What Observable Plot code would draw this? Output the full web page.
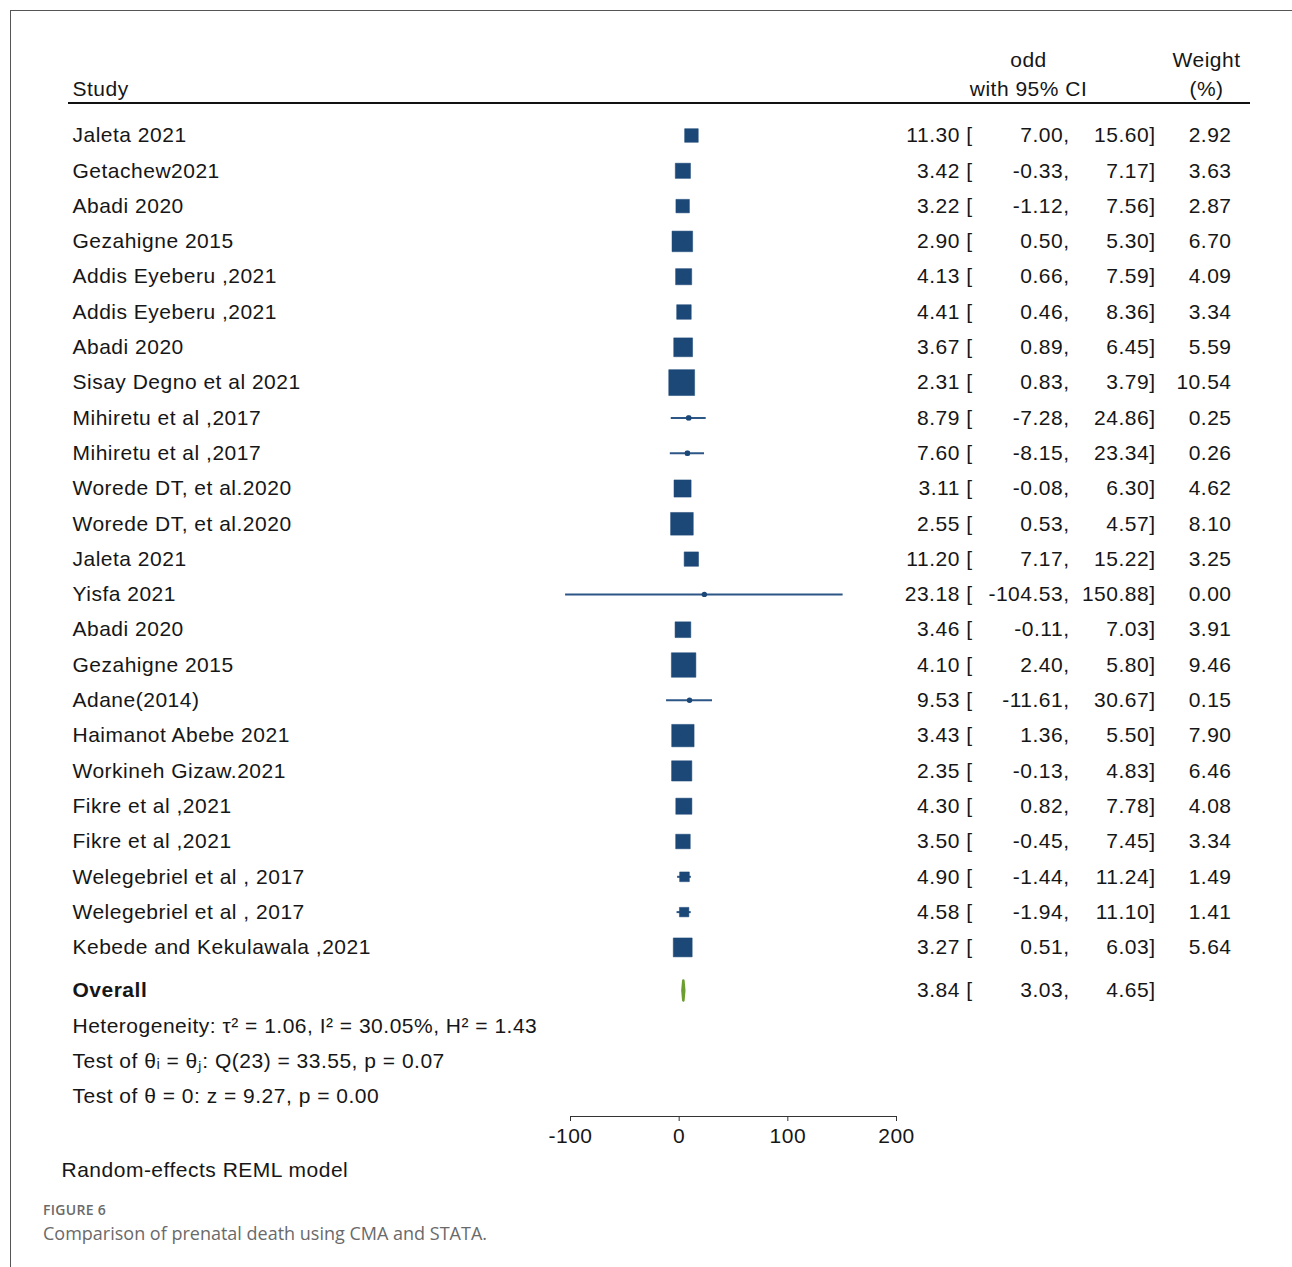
<!DOCTYPE html>
<html>
<head>
<meta charset="utf-8">
<script src="https://cdn.jsdelivr.net/npm/d3@7"></script>
<script src="https://cdn.jsdelivr.net/npm/@observablehq/plot@0.6"></script>
<style>
  html, body { margin: 0; padding: 0; background: #fff; }
  body { width: 1292px; height: 1267px; position: relative; overflow: hidden; }
  #frame { position: absolute; left: 10px; top: 10px; width: 1300px; height: 1300px;
           border-left: 1px solid #555; border-top: 1px solid #555; }
  #chart { position: absolute; left: 0; top: 0; }
  #fig { position: absolute; left: 43px; top: 1201px; font-family: "Open Sans", sans-serif;
         font-size: 14px; font-weight: 600; color: #6a6a6a; line-height: 18px; letter-spacing: 0.3px; }
  #cap { position: absolute; left: 43px; top: 1221px; font-family: "Open Sans", sans-serif;
         font-size: 18px; font-weight: 400; color: #6a6a6a; line-height: 25px; }
  #chart svg text { letter-spacing: 0.5px; }
</style>
</head>
<body>
<div id="frame"></div>
<div id="chart"></div>
<div id="fig">FIGURE 6</div>
<div id="cap">Comparison of prenatal death using CMA and STATA.</div>
<script>
const studies = ["Jaleta 2021", "Getachew2021", "Abadi 2020", "Gezahigne 2015", "Addis Eyeberu ,2021",
  "Addis Eyeberu ,2021", "Abadi 2020", "Sisay Degno et al 2021", "Mihiretu et al ,2017", "Mihiretu et al ,2017",
  "Worede DT, et al.2020", "Worede DT, et al.2020", "Jaleta 2021", "Yisfa 2021", "Abadi 2020",
  "Gezahigne 2015", "Adane(2014)", "Haimanot Abebe 2021", "Workineh Gizaw.2021", "Fikre et al ,2021",
  "Fikre et al ,2021", "Welegebriel et al , 2017", "Welegebriel et al , 2017", "Kebede and Kekulawala ,2021"];
const estimates = [11.30, 3.42, 3.22, 2.90, 4.13, 4.41, 3.67, 2.31, 8.79, 7.60, 3.11, 2.55, 11.20, 23.18, 3.46,
  4.10, 9.53, 3.43, 2.35, 4.30, 3.50, 4.90, 4.58, 3.27];
const lower = [7.00, -0.33, -1.12, 0.50, 0.66, 0.46, 0.89, 0.83, -7.28, -8.15, -0.08, 0.53, 7.17, -104.53, -0.11,
  2.40, -11.61, 1.36, -0.13, 0.82, -0.45, -1.44, -1.94, 0.51];
const upper = [15.60, 7.17, 7.56, 5.30, 7.59, 8.36, 6.45, 3.79, 24.86, 23.34, 6.30, 4.57, 15.22, 150.88, 7.03,
  5.80, 30.67, 5.50, 4.83, 7.78, 7.45, 11.24, 11.10, 6.03];
const weights = [2.92, 3.63, 2.87, 6.70, 4.09, 3.34, 5.59, 10.54, 0.25, 0.26, 4.62, 8.10, 3.25, 0.00, 3.91,
  9.46, 0.15, 7.90, 6.46, 4.08, 3.34, 1.49, 1.41, 5.64];
const overallLabel = "Overall";
const overall = {est: 3.84, lo: 3.03, hi: 4.65};
const statLines = [
  "Heterogeneity: \u03C4\u00B2 = 1.06, I\u00B2 = 30.05%, H\u00B2 = 1.43",
  "Test of \u03B8\u1D62 = \u03B8\u2C7C: Q(23) = 33.55, p = 0.07",
  "Test of \u03B8 = 0: z = 9.27, p = 0.00"
];
const xTicks = [-100, 0, 100, 200];
const headerCI = ["odd", "with 95% CI"];
const headerW = ["Weight", "(%)"];
const modelNote = "Random-effects REML model";

const fmt = v => v.toFixed(2);
const rows = studies.map((s, i) => ({
  row: i, study: s, est: estimates[i], lo: lower[i], hi: upper[i], w: weights[i]
}));
const n = rows.length;
const overallRow = n - 1 + 1.22;
const statRows = statLines.map((t, i) => ({row: overallRow + 1 + i * 0.995, text: t}));
const yMax = 27.79;

const navy = "#1c4878";
const lineCol = "#2c5686";
const green = "#6b9e2e";
const txt = "#161616";
const font = "Liberation Sans, Arial, Helvetica, sans-serif";
const fs = 21;

const diamond = [
  {x: overall.lo, y: overallRow},
  {x: overall.est, y: overallRow - 0.28},
  {x: overall.hi, y: overallRow},
  {x: overall.est, y: overallRow + 0.28},
  {x: overall.lo, y: overallRow}
];

const W = 1292, H = 1190;
const mL = 570, mR = 396, mT = 135, mB = 74;
const xR = W - mR;

const plot = Plot.plot({
  width: W, height: H,
  marginLeft: mL, marginRight: mR, marginTop: mT, marginBottom: mB,
  style: {fontFamily: font, fontSize: fs + "px", color: txt, background: "transparent", overflow: "visible"},
  x: {domain: [-100, 200]},
  y: {domain: [0, yMax], reverse: true, axis: null},
  r: {type: "sqrt", domain: [0, 10.54], range: [0, 14.6]},
  marks: [
    Plot.axisX({ticks: xTicks, tickFormat: d => String(d), tickSize: 5, tickPadding: 7, fontSize: fs, label: null, stroke: "#333", fill: txt}),
    Plot.ruleY([yMax], {stroke: "#333", strokeWidth: 1.2}),
    // CI lines
    Plot.ruleY(rows, {y: "row", x1: "lo", x2: "hi", stroke: lineCol, strokeWidth: 2}),
    // weight squares
    Plot.dot(rows, {x: "est", y: "row", r: "w", symbol: "square", fill: navy, stroke: navy, strokeWidth: 0.5}),
    // point markers
    Plot.dot(rows, {x: "est", y: "row", r: 2.7, fill: navy}),
    // overall diamond
    Plot.line(diamond, {x: "x", y: "y", fill: green, stroke: green, strokeWidth: 2.6}),
    // Study column
    Plot.text(rows, {y: "row", text: "study", frameAnchor: "left", dx: 72 - mL, textAnchor: "start", fontSize: fs, fill: txt}),
    // numeric columns
    Plot.text(rows, {y: "row", text: d => fmt(d.est) + " [", frameAnchor: "right", dx: 972 - xR, textAnchor: "end", fontSize: fs, fill: txt}),
    Plot.text(rows, {y: "row", text: d => fmt(d.lo) + ",", frameAnchor: "right", dx: 1069 - xR, textAnchor: "end", fontSize: fs, fill: txt}),
    Plot.text(rows, {y: "row", text: d => fmt(d.hi) + "]", frameAnchor: "right", dx: 1155 - xR, textAnchor: "end", fontSize: fs, fill: txt}),
    Plot.text(rows, {y: "row", text: d => fmt(d.w), frameAnchor: "right", dx: 1231 - xR, textAnchor: "end", fontSize: fs, fill: txt}),
    // overall row
    Plot.text([overall], {y: () => overallRow, text: () => overallLabel, frameAnchor: "left", dx: 72 - mL, textAnchor: "start", fontSize: fs, fontWeight: "bold", fill: txt}),
    Plot.text([overall], {y: () => overallRow, text: d => fmt(d.est) + " [", frameAnchor: "right", dx: 972 - xR, textAnchor: "end", fontSize: fs, fill: txt}),
    Plot.text([overall], {y: () => overallRow, text: d => fmt(d.lo) + ",", frameAnchor: "right", dx: 1069 - xR, textAnchor: "end", fontSize: fs, fill: txt}),
    Plot.text([overall], {y: () => overallRow, text: d => fmt(d.hi) + "]", frameAnchor: "right", dx: 1155 - xR, textAnchor: "end", fontSize: fs, fill: txt}),
    // stats lines
    Plot.text(statRows, {y: "row", text: "text", frameAnchor: "left", dx: 72 - mL, textAnchor: "start", fontSize: fs, fill: txt}),
    // headers
    Plot.text(["Study"], {frameAnchor: "top-left", dx: 72 - mL, dy: 89 - mT, textAnchor: "start", lineAnchor: "middle", fontSize: fs, fill: txt}),
    Plot.text(headerCI, {text: d => d, frameAnchor: "top-right", dx: 1028 - xR, textAnchor: "middle", lineAnchor: "middle", fontSize: fs, fill: txt, filter: (d, i) => i === 0, dy: 60 - mT}),
    Plot.text(headerCI, {text: d => d, frameAnchor: "top-right", dx: 1028 - xR, textAnchor: "middle", lineAnchor: "middle", fontSize: fs, fill: txt, filter: (d, i) => i === 1, dy: 89 - mT}),
    Plot.text(headerW, {text: d => d, frameAnchor: "top-right", dx: 1206 - xR, textAnchor: "middle", lineAnchor: "middle", fontSize: fs, fill: txt, filter: (d, i) => i === 0, dy: 60 - mT}),
    Plot.text(headerW, {text: d => d, frameAnchor: "top-right", dx: 1206 - xR, textAnchor: "middle", lineAnchor: "middle", fontSize: fs, fill: txt, filter: (d, i) => i === 1, dy: 89 - mT}),
    // model note
    Plot.text([modelNote], {frameAnchor: "bottom-left", dx: 61 - mL, dy: 1170 - (H - mB), textAnchor: "start", lineAnchor: "middle", fontSize: fs, fill: txt})
  ]
});

// header rule
d3.select(plot).append("line")
  .attr("x1", 68).attr("x2", 1250).attr("y1", 103).attr("y2", 103)
  .attr("stroke", "#111").attr("stroke-width", 2);

document.getElementById("chart").appendChild(plot);
</script>
</body>
</html>
